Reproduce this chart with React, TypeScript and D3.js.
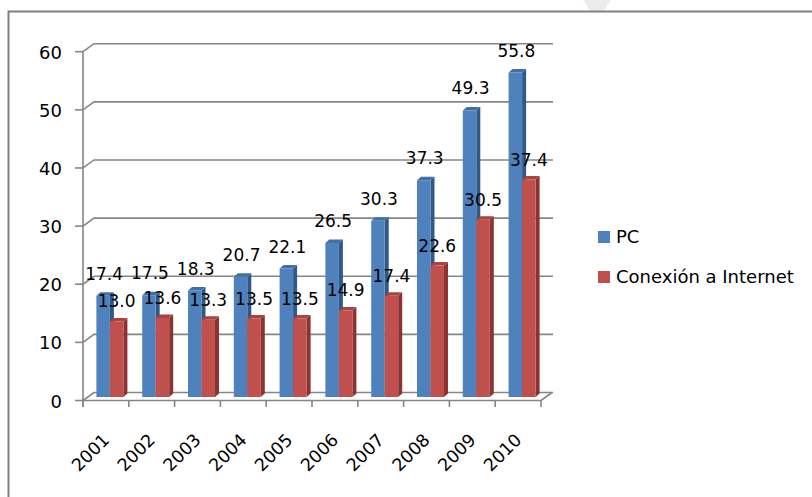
import React from 'react';
import * as d3 from 'd3';

const years = ['2001', '2002', '2003', '2004', '2005', '2006', '2007', '2008', '2009', '2010'];
const pcValues = [17.4, 17.5, 18.3, 20.7, 22.1, 26.5, 30.3, 37.3, 49.3, 55.8];
const internetValues = [13.0, 13.6, 13.3, 13.5, 13.5, 14.9, 17.4, 22.6, 30.5, 37.4];
const yTicks = [0, 10, 20, 30, 40, 50, 60];
const seriesNames = ['PC', 'Conexión a Internet'];

const W = 812;
const H = 497;
const FONT = 'DejaVu Sans, sans-serif';

// floor depth and bar depth (pseudo 3d)
const DX = 11;
const DY = -8;
const BX = 4;
const BY = -3.5;
const BAR_W = 13.5;

const colors = {
  pc: { front: '#4f81bd', side: '#2f5989', top: '#416fa6' },
  net: { front: '#c0504d', side: '#8a3330', top: '#a84340' },
};

const Bar: React.FC<{ x: number; top: number; base: number; c: { front: string; side: string; top: string } }> = ({ x, top, base, c }) => {
  const front = `M${x},${base}L${x},${top}L${x + BAR_W},${top}L${x + BAR_W},${base}Z`;
  const side = `M${x + BAR_W},${base}L${x + BAR_W},${top}L${x + BAR_W + BX},${top + BY}L${x + BAR_W + BX},${base + BY}Z`;
  const cap = `M${x},${top}L${x + BX},${top + BY}L${x + BAR_W + BX},${top + BY}L${x + BAR_W},${top}Z`;
  return (
    <g>
      <path d={side} fill={c.side} />
      <path d={cap} fill={c.top} />
      <path d={front} fill={c.front} />
    </g>
  );
};

export default function App() {
  const x = d3.scaleBand<string>().domain(years).range([83, 541]);
  const y = d3.scaleLinear().domain([0, 60]).range([400.5, 51.7]);
  const x0 = x.range()[0];
  const x1 = x.range()[1];
  const gridRight = x1 + DX + 1;
  const base = y(0) - 3.5;
  const shift = 4;

  const center = (d: string) => (x(d) as number) + x.bandwidth() / 2;

  return (
    <svg width={W} height={H} style={{ position: 'absolute', left: 0, top: 0, background: '#fff' }} fontFamily={FONT}>
      <rect x={0} y={0} width={W} height={H} fill="#fff" />
      {/* watermark fragment */}
      <path d="M583,0L611,0C607,5 605,9 604,11L589,11C588,7 586,3 583,0Z" fill="#ececec" />
      {/* outer frame */}
      <path d={`M8.5,${H}L8.5,11.5L${W},11.5`} fill="none" stroke="#808080" strokeWidth={2} />

      {/* gridlines and back floor */}
      {yTicks.map((t) => (
        <path
          key={'g' + t}
          d={`M${x0},${y(t)}L${x0 + DX},${y(t) + DY}L${gridRight},${y(t) + DY}`}
          fill="none"
          stroke="#868686"
          strokeWidth={1.6}
        />
      ))}
      <path d={`M${x1},${y(0)}L${x1 + DX},${y(0) + DY}`} fill="none" stroke="#868686" strokeWidth={1.6} />

      {/* bars */}
      {years.map((d, i) => {
        const cx = center(d) + shift;
        return (
          <g key={'b' + d}>
            <Bar x={cx - BAR_W} top={y(pcValues[i]) - 3.5} base={base} c={colors.pc} />
            <Bar x={cx} top={y(internetValues[i]) - 3.5} base={base} c={colors.net} />
          </g>
        );
      })}

      {/* axes */}
      <path d={`M${x0},${y(60)}L${x0},${y(0) + 6.5}`} fill="none" stroke="#868686" strokeWidth={1.6} />
      <path d={`M${x0},${y(0)}L${x1},${y(0)}`} fill="none" stroke="#868686" strokeWidth={1.6} />
      {yTicks.map((t) => (
        <g key={'yt' + t}>
          <line x1={x0 - 8} x2={x0} y1={y(t)} y2={y(t)} stroke="#868686" strokeWidth={1.6} />
          <text x={62} y={y(t) + 7} textAnchor="end" fontSize={18} fill="#000">
            {t}
          </text>
        </g>
      ))}
      {years.concat(['end']).map((d, i) => {
        const xx = i < years.length ? (x(d) as number) : x1;
        return <line key={'xt' + d} x1={xx} x2={xx} y1={y(0)} y2={y(0) + 6.5} stroke="#868686" strokeWidth={1.6} />;
      })}
      {years.map((d) => (
        <text
          key={'xl' + d}
          transform={`translate(${center(d) + 4.5},441) rotate(-45)`}
          textAnchor="end"
          fontSize={17.5}
          fill="#000"
        >
          {d}
        </text>
      ))}

      {/* data labels */}
      {years.map((d, i) => {
        const cx = center(d) + shift;
        return (
          <g key={'dl' + d} fontSize={17} fill="#000" textAnchor="middle">
            <text x={cx - BAR_W / 2 + 1} y={y(pcValues[i]) - 3.5 - 16}>
              {pcValues[i].toFixed(1)}
            </text>
            <text x={cx + BAR_W / 2} y={y(internetValues[i]) - 3.5 - 14}>
              {internetValues[i].toFixed(1)}
            </text>
          </g>
        );
      })}

      {/* legend */}
      {seriesNames.map((s, i) => (
        <g key={'lg' + s}>
          <rect x={598} y={231 + i * 40} width={12} height={12} fill={i === 0 ? colors.pc.front : colors.net.front} />
          <text x={616} y={243 + i * 40} fontSize={18} fill="#000">
            {s}
          </text>
        </g>
      ))}
    </svg>
  );
}
